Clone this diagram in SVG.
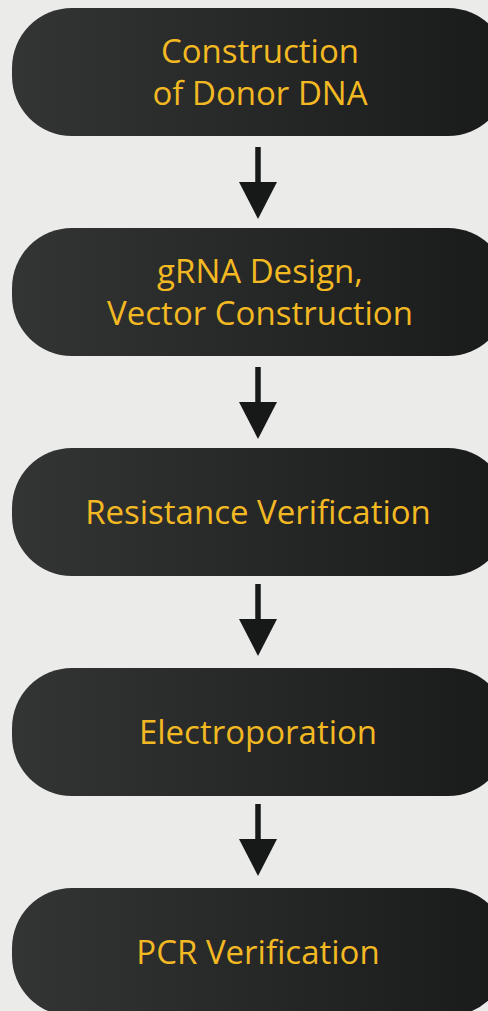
<svg xmlns="http://www.w3.org/2000/svg" width="488" height="1011" viewBox="0 0 488 1011">
  <defs>
    <linearGradient id="pillGrad" x1="0" y1="0" x2="1" y2="0">
      <stop offset="0" stop-color="#333434"/>
      <stop offset="1" stop-color="#191a1a"/>
    </linearGradient>
  </defs>
  <style>
    .pill { fill: url(#pillGrad); }
    .label { font-family: "Open Sans", "Noto Sans", sans-serif; font-size: 33px; fill: #f3b923; text-anchor: middle; }
    .shaft { stroke: #171818; stroke-width: 5.5; fill: none; }
    .head { fill: #171818; }
  </style>
  <rect x="0" y="0" width="488" height="1011" fill="#ebebea"/>

  <g id="node-donor">
    <rect class="pill" x="12" y="8" width="496" height="128" rx="60" ry="60"/>
    <text class="label" x="260" y="63">Construction</text>
    <text class="label" x="260" y="105">of Donor DNA</text>
  </g>
  <g id="node-grna">
    <rect class="pill" x="12" y="228" width="496" height="128" rx="60" ry="60"/>
    <text class="label" x="260" y="283">gRNA Design,</text>
    <text class="label" x="260" y="325">Vector Construction</text>
  </g>
  <g id="node-resistance">
    <rect class="pill" x="12" y="448" width="496" height="128" rx="60" ry="60"/>
    <text class="label" x="258" y="524">Resistance Verification</text>
  </g>
  <g id="node-electroporation">
    <rect class="pill" x="12" y="668" width="496" height="128" rx="60" ry="60"/>
    <text class="label" x="258" y="744">Electroporation</text>
  </g>
  <g id="node-pcr">
    <rect class="pill" x="12" y="888" width="496" height="128" rx="60" ry="60"/>
    <text class="label" x="258" y="964">PCR Verification</text>
  </g>

  <g id="connectors">
    <line class="shaft" x1="258" y1="147" x2="258" y2="184"/>
    <polygon class="head" points="239,182 277,182 258,219"/>
    <line class="shaft" x1="258" y1="367" x2="258" y2="404"/>
    <polygon class="head" points="239,402 277,402 258,439"/>
    <line class="shaft" x1="258" y1="584" x2="258" y2="621"/>
    <polygon class="head" points="239,619 277,619 258,656"/>
    <line class="shaft" x1="258" y1="804" x2="258" y2="841"/>
    <polygon class="head" points="239,839 277,839 258,876"/>
  </g>
</svg>
